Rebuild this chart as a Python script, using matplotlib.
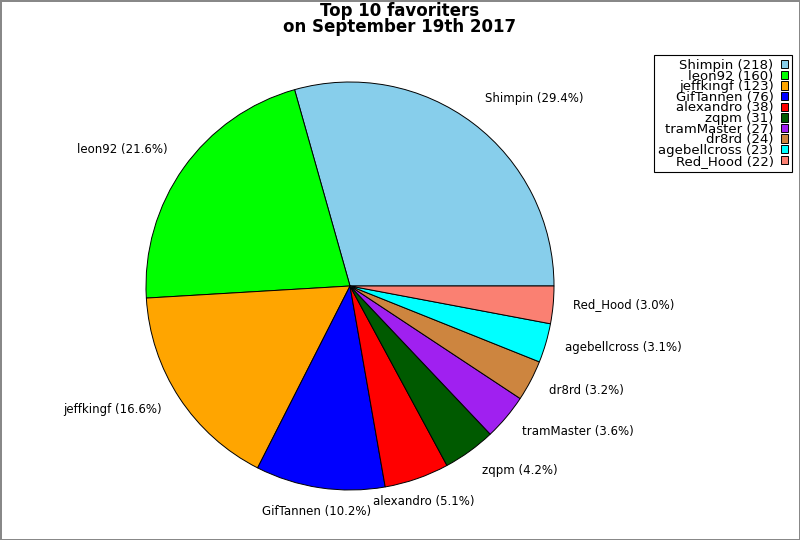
import matplotlib
matplotlib.use("Agg")
import matplotlib.pyplot as plt
import matplotlib.transforms as mtransforms
from matplotlib.patches import Patch
import numpy as np

# top 10 favoriters
names = ["Shimpin", "leon92", "jeffkingf", "GifTannen", "alexandro",
         "zqpm", "tramMaster", "dr8rd", "agebellcross", "Red_Hood"]
counts = [218, 160, 123, 76, 38, 31, 27, 24, 23, 22]
colors = ["#87ceeb", "#00ff00", "#ffa500", "#0000ff", "#ff0000",
          "#005a00", "#a020f0", "#cd853f", "#00ffff", "#fa8072"]

total = float(sum(counts))
pie_labels = ["{} ({:.1f}%)".format(n, 100.0 * c / total) for n, c in zip(names, counts)]
legend_labels = ["{} ({})".format(n, c) for n, c in zip(names, counts)]

fig = plt.figure(figsize=(8, 5.4), dpi=100)
fig.patch.set_edgecolor("#888888")
fig.patch.set_linewidth(2)

ax = fig.add_axes([95 / 800.0, -1 / 540.0, 510 / 800.0, 510 / 540.0])
wedges, texts = ax.pie(counts, colors=colors, startangle=0, counterclock=True,
                       wedgeprops=dict(edgecolor="black", linewidth=0.7))
ax.set_xlim(-1.25, 1.25)
ax.set_ylim(-1.25, 1.25)
ax.set_aspect("equal")

# labels: aligned away from the pie, centered near the bottom
for w, lab in zip(wedges, pie_labels):
    ang = np.deg2rad(0.5 * (w.theta1 + w.theta2))
    c, s = np.cos(ang), np.sin(ang)
    if abs(c) < 0.45:
        ha = "center"
    elif c > 0:
        ha = "left"
    else:
        ha = "right"
    dy = 3 + 6.5 * s
    tr = mtransforms.offset_copy(ax.transData, fig=fig, x=0, y=dy, units="dots")
    ax.text(1.1 * c, 1.1 * s, lab, ha=ha, va="center", fontsize=8.5,
            transform=tr)

fig.suptitle("Top 10 favoriters\non September 19th 2017", fontsize=12,
             fontweight="bold", y=0.996, linespacing=0.85)

handles = [Patch(facecolor=c, edgecolor="black", linewidth=0.7) for c in colors]
leg = fig.legend(handles, legend_labels, loc="upper right",
                 bbox_to_anchor=(792 / 800.0, 1 - 55 / 540.0),
                 markerfirst=False, fontsize=9.5, labelspacing=-0.18,
                 handlelength=0.5, handleheight=0.6, handletextpad=0.6,
                 borderpad=0.3, borderaxespad=0, fancybox=False, framealpha=1)
leg.get_frame().set_edgecolor("black")
leg.get_frame().set_linewidth(0.8)
for t in leg.get_texts():
    t.set_ha("right")

fig.savefig("out.png", dpi=100, edgecolor=fig.get_edgecolor())
